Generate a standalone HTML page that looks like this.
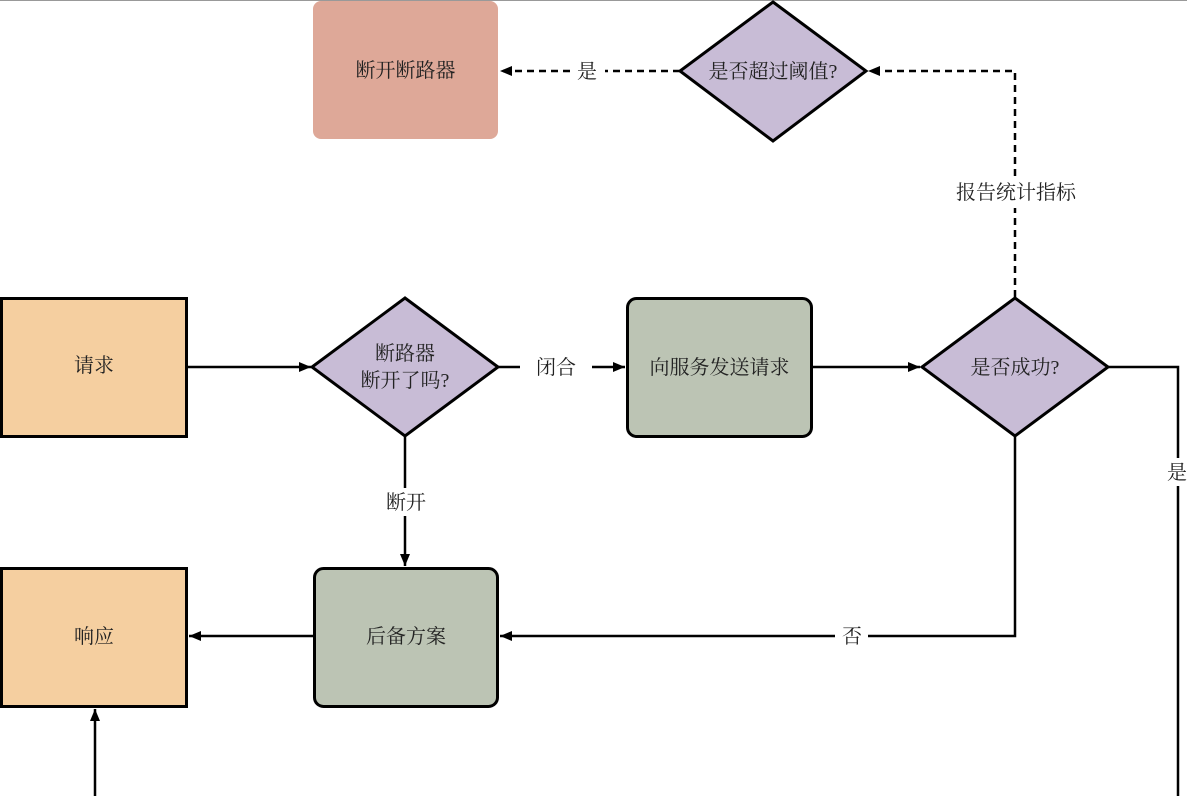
<!DOCTYPE html>
<html><head><meta charset="utf-8"><style>
html,body{margin:0;padding:0;background:#fff;width:1187px;height:796px;overflow:hidden}
text{font-family:"Liberation Serif","Noto Serif CJK SC",serif;font-size:20px;fill:#222}
</style></head><body>
<svg width="1187" height="796" viewBox="0 0 1187 796" xmlns="http://www.w3.org/2000/svg">
<defs>
<marker id="a" markerWidth="12" markerHeight="10" refX="12" refY="5" orient="auto" markerUnits="userSpaceOnUse">
<path d="M0,0 L12,5 L0,10 z" fill="#000"/></marker>
</defs>
<line x1="0" y1="0.5" x2="1187" y2="0.5" stroke="#999" stroke-width="1"/>
<!-- nodes -->
<rect x="313" y="1" width="185" height="138" rx="8" fill="#dea898"/>
<text x="405.5" y="77" text-anchor="middle">断开断路器</text>
<polygon points="773,2 866,71 773,141 680,71" fill="#c8bcd6" stroke="#000" stroke-width="3"/>
<text x="773" y="78" text-anchor="middle">是否超过阈值?</text>

<rect x="1.5" y="298.5" width="185" height="138" fill="#f5cfa0" stroke="#000" stroke-width="3"/>
<text x="94" y="372" text-anchor="middle">请求</text>
<polygon points="405,298 498,367 405,436 312,367" fill="#c8bcd6" stroke="#000" stroke-width="3"/>
<text x="405" y="360" text-anchor="middle">断路器</text>
<text x="405" y="387" text-anchor="middle">断开了吗?</text>
<rect x="627.5" y="298.5" width="184" height="138" rx="9" fill="#bcc4b4" stroke="#000" stroke-width="3"/>
<text x="719.5" y="374" text-anchor="middle">向服务发送请求</text>
<polygon points="1015,298 1108,367 1015,436 922,367" fill="#c8bcd6" stroke="#000" stroke-width="3"/>
<text x="1015" y="374" text-anchor="middle">是否成功?</text>

<rect x="1.5" y="568.5" width="185" height="138" fill="#f5cfa0" stroke="#000" stroke-width="3"/>
<text x="94" y="643" text-anchor="middle">响应</text>
<rect x="314.5" y="568.5" width="183" height="138" rx="9" fill="#bcc4b4" stroke="#000" stroke-width="3"/>
<text x="406" y="643" text-anchor="middle">后备方案</text>

<!-- edges -->
<g stroke="#000" stroke-width="2.5" fill="none">
<line x1="187" y1="367" x2="311" y2="367" marker-end="url(#a)"/>
<line x1="498" y1="367" x2="520" y2="367"/>
<line x1="592" y1="367" x2="625" y2="367" marker-end="url(#a)"/>
<line x1="812" y1="367" x2="920" y2="367" marker-end="url(#a)"/>
<polyline points="1108,367 1178,367 1178,458"/>
<line x1="1178" y1="486" x2="1178" y2="796"/>
<line x1="95" y1="796" x2="95" y2="709" marker-end="url(#a)"/>
<polyline points="1015,437 1015,636 868,636"/>
<line x1="835" y1="636" x2="500" y2="636" marker-end="url(#a)"/>
<line x1="313" y1="636" x2="189" y2="636" marker-end="url(#a)"/>
<line x1="405" y1="437" x2="405" y2="488"/>
<line x1="405" y1="516" x2="405" y2="566" marker-end="url(#a)"/>
<g stroke-dasharray="7,5">
<polyline points="1015,297 1015,208"/>
<polyline points="1015,176 1015,71 868,71" marker-end="url(#a)"/>
<line x1="680" y1="71" x2="605" y2="71"/>
<line x1="570" y1="71" x2="500" y2="71" marker-end="url(#a)"/>
</g>
</g>
<!-- labels -->
<text x="556" y="374" text-anchor="middle">闭合</text>
<text x="1177" y="479" text-anchor="middle">是</text>
<text x="852" y="643" text-anchor="middle">否</text>
<text x="406" y="509" text-anchor="middle">断开</text>
<text x="1016" y="199" text-anchor="middle">报告统计指标</text>
<text x="587" y="78" text-anchor="middle">是</text>
</svg>
</body></html>
